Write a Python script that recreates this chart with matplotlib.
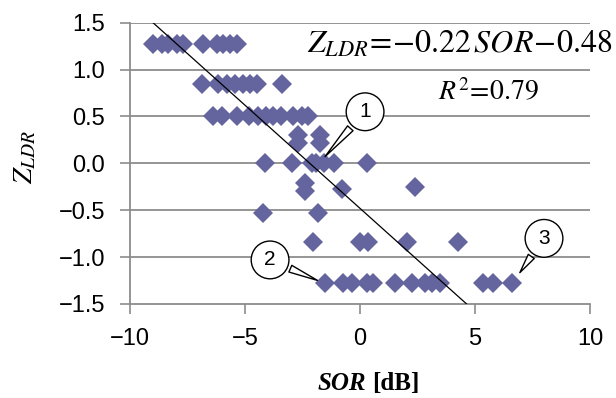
# libraries
import matplotlib
matplotlib.use('Agg')
import numpy as np
import matplotlib.pyplot as plt
from matplotlib.ticker import FuncFormatter

plt.rcParams['font.family'] = ['Liberation Sans', 'DejaVu Sans']
plt.rcParams['mathtext.fontset'] = 'stix'

# data: SOR [dB] and Z_LDR for each point
sor = [-8.99, -8.62, -8.33, -7.97, -7.68, -6.81, -6.23, -5.94, -5.65, -5.36,
       -6.88, -6.16, -5.8, -5.43, -5.07, -4.78, -4.49, -3.41,
       -6.38, -6.01, -5.33, -4.82, -4.42, -4.1, -3.8, -3.45, -2.9, -2.53, -2.25,
       -2.7, -2.7, -1.75, -1.75,
       -4.13, -2.95, -2.1, -1.9, -1.55, -1.15, 0.3,
       -2.39, -2.39, -0.8, 2.39,
       -4.2, -1.81,
       -2.03, 0.0, 0.36, 2.03, 4.27,
       -1.52, -0.72, -0.36, 0.29, 0.58, 1.52, 2.25, 2.83, 3.12, 3.48, 5.36, 5.8, 6.6]
zldr = [1.27] * 10 + [0.845] * 8 + [0.5] * 11 + \
       [0.3, 0.22, 0.3, 0.22] + [0.0] * 7 + \
       [-0.21, -0.29, -0.27, -0.25] + [-0.53] * 2 + [-0.84] * 5 + [-1.28] * 13

# trend line coefficients
slope = -0.22
intercept = -0.48

# callouts: label, point, bubble centre
callout_labels = ['1', '2', '3']
callout_points = [(-1.6, 0.05), (-1.74, -1.26), (6.88, -1.19)]
callout_bubbles = [(0.22, 0.55), (-3.91, -1.03), (8.0, -0.8)]

fig = plt.figure(figsize=(6.16, 3.98), dpi=100)
ax = fig.add_axes([130 / 616, 1 - 304 / 398, 460 / 616, 281.3 / 398])

grey = '#8c8c8c'

# grid lines
for yv in np.arange(-1.0, 1.51, 0.5):
    ax.axhline(yv, color=grey, lw=1.3, zorder=1)

# points
ax.plot(sor, zldr, 'D', color='#64649f', markersize=10.5, markeredgewidth=0, zorder=3)

# trend line
xl = np.array([-10, 10])
ax.plot(xl, slope * xl + intercept, color='black', lw=0.9, zorder=4)

# callouts
for lab, pt, bub in zip(callout_labels, callout_points, callout_bubbles):
    ax.annotate(lab, xy=pt, xytext=bub, ha='center', va='center', fontsize=15,
                bbox=dict(boxstyle='circle,pad=0.45', fc='white', ec='black', lw=1),
                arrowprops=dict(arrowstyle='wedge,tail_width=0.35,shrink_factor=0.5',
                                fc='white', ec='black', lw=1),
                zorder=5, annotation_clip=False)

ax.set_xlim(-10, 10)
ax.set_ylim(-1.5, 1.5)
ax.set_xticks([-10, -5, 0, 5, 10])
ax.set_yticks(np.arange(-1.5, 1.51, 0.5))
ax.yaxis.set_major_formatter(FuncFormatter(lambda v, p: ('%.1f' % v).replace('-', '\u2212')))
ax.tick_params(direction='out', length=7, width=1.2, color=grey, labelsize=17)
ax.tick_params(axis='y', pad=11)
ax.tick_params(axis='x', pad=10)
for s in ['top', 'right']:
    ax.spines[s].set_visible(False)
for s in ['left', 'bottom']:
    ax.spines[s].set_color(grey)
    ax.spines[s].set_linewidth(1.3)

# equation text
fig.text(612 / 616, 1 - 53 / 398, r'$Z_{LDR}\!=\!{-}0.22\,SOR\!-\!0.48$',
         ha='right', va='baseline', fontsize=23)
fig.text(488 / 616, 1 - 100 / 398, r'$R^2\!=\!0.79$',
         ha='center', va='baseline', fontsize=20)

# axis labels
fig.text(25 / 616, 1 - 157 / 398, r'$Z_{LDR}$', rotation=90,
         ha='center', va='center', fontsize=20)
fig.text(366 / 616, 1 - 390 / 398, 'SOR', family='Liberation Serif',
         style='italic', weight='bold', fontsize=18, ha='right', va='baseline')
fig.text(372 / 616, 1 - 390 / 398, '[dB]', family='Liberation Serif',
         weight='bold', fontsize=18, ha='left', va='baseline')

fig.savefig('out.png', dpi=100)
